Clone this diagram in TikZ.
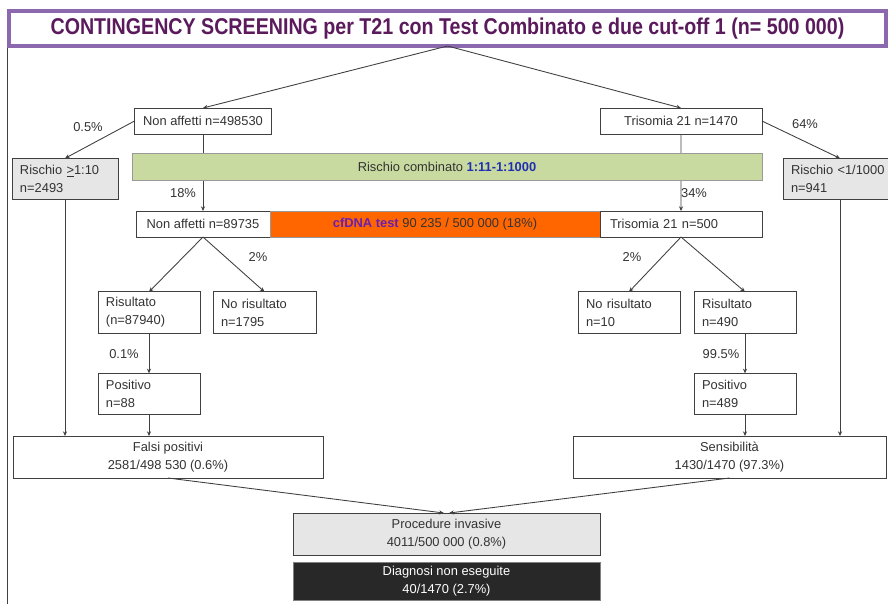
\documentclass[tikz,border=0pt]{standalone}
\usepackage{fontspec}
\setmainfont{Liberation Sans}
\usetikzlibrary{arrows.meta,positioning,backgrounds,calc}

\definecolor{linegray}{RGB}{64,64,64}
\definecolor{titleframe}{RGB}{140,105,175}
\definecolor{titletext}{RGB}{90,26,92}
\definecolor{greenbar}{RGB}{200,218,160}
\definecolor{cforange}{RGB}{255,102,0}
\definecolor{cfpurple}{RGB}{106,31,176}
\definecolor{cutblue}{RGB}{31,47,176}
\definecolor{boxgray}{RGB}{230,230,230}
\definecolor{darkbox}{RGB}{40,40,40}

\begin{document}
\begin{tikzpicture}[x=0.03cm,y=-0.03cm,
block/.style={draw=linegray,fill=white,line width=0.75pt,rectangle,outer sep=0pt,inner sep=0pt,
  minimum height=0.78cm,text=black!80,font=\fontsize{11}{15.5}\selectfont},
twoline/.style={block,minimum height=1.24cm,align=left,inner xsep=0.24cm},
bar/.style={block,draw=gray!80},
lbl/.style={text=black!80,font=\fontsize{11}{12}\selectfont},
arr/.style={draw=linegray,line width=0.75pt,-{Stealth[length=4pt,width=3.5pt]}}]

    \path[use as bounding box,clip] (0,0) rectangle (888,603);
    \draw[linegray,line width=0.8pt] (7,610) -- (7,9) -- (895,9);

    \node [block, draw=titleframe, line width=2.8pt, text=titletext, minimum width=26.31cm, minimum height=1.05cm] (T) at (447.5,28.5)
        {\scalebox{0.86}[1]{\fontsize{19.5}{22}\selectfont\bfseries CONTINGENCY SCREENING per T21 con Test Combinato e due cut-off 1 (n= 500 000)}};

    \node [block, minimum width=4.11cm] (NA1) at (203,121) {Non affetti n=498530};
    \node [block, minimum width=4.86cm] (TR1) at (681,121) {Trisomia 21 n=1470};
    \node [bar, fill=greenbar, minimum width=18.9cm, minimum height=0.81cm] (RC) at (447,166.5)
        {Rischio combinato \textcolor{cutblue}{\bfseries 1:11-1:1000}};
    \node [twoline, fill=boxgray, text width=2.7cm] (R1) at (65,179) {Rischio \underline{>}1:10\\n=2493};
    \node [twoline, fill=boxgray, text width=2.94cm] (R2) at (840,179) {Rischio <1/1000\\n=941};

    \node [block, minimum width=4.02cm] (NA2) at (203,224) {Non affetti n=89735};
    \node [bar, fill=cforange, minimum width=9.9cm, right=0pt of NA2] (CF)
        {\textcolor{cfpurple}{\bfseries cfDNA test} 90 235 / 500 000 (18\%)};
    \node [block, text width=4.26cm, inner xsep=0.3cm, align=left, right=0pt of CF] (TR2) {Trisomia 21 n=500};

    \node [twoline, text width=2.58cm] (RS1) at (149,312.5) {Risultato\\(n=87940)};
    \node [twoline, text width=2.61cm] (NR1) at (264.5,312.5) {No risultato\\n=1795};
    \node [twoline, text width=2.58cm] (NR2) at (629,312.5) {No risultato\\n=10};
    \node [twoline, text width=2.58cm] (RS2) at (745,312.5) {Risultato\\n=490};
    \node [twoline, text width=2.58cm] (P1) at (149,394) {Positivo\\n=88};
    \node [twoline, text width=2.58cm] (P2) at (745,394) {Positivo\\n=489};

    \node [block, align=center, minimum width=9.3cm, minimum height=1.26cm] (FP) at (168,457)
        {Falsi positivi\\2581/498 530 (0.6\%)};
    \node [block, align=center, minimum width=9.39cm, minimum height=1.26cm] (SE) at (729.5,457)
        {Sensibilità\\1430/1470 (97.3\%)};
    \node [block, align=center, fill=boxgray, minimum width=9.21cm, minimum height=1.26cm] (PI) at (446.5,534)
        {Procedure invasive\\4011/500 000 (0.8\%)};
    \node [block, align=center, fill=darkbox, draw=gray, text=white, minimum width=9.21cm, minimum height=1.14cm, below=0.21cm of PI] (DN)
        {Diagnosi non eseguite\\40/1470 (2.7\%)};

    % percentuali
    \node [lbl] (L1) at (88,127) {0.5\%};
    \node [lbl] (L2) at (805,124) {64\%};
    \node [lbl] (L3) at (183,193) {18\%};
    \node [lbl] (L4) at (694,193) {34\%};
    \node [lbl] (L5) at (258,257) {2\%};
    \node [lbl] (L6) at (632,257) {2\%};
    \node [lbl] (L7) at (124,354) {0.1\%};
    \node [lbl] (L8) at (721,354) {99.5\%};

    \begin{scope}[on background layer]
        \draw[arr] (NA1) -- (NA2);
        \draw[arr] (TR1) -- (TR2);
    \end{scope}

    \draw[arr] (T.south) -- (NA1.north);
    \draw[arr] (T.south) -- (TR1.north);
    \draw[arr] (NA1.west) -- (R1.north);
    \draw[arr] (TR1.east) -- (R2.north);
    \draw[arr] (NA2.south) -- (RS1.north);
    \draw[arr] (NA2.south) -- (NR1.north);
    \draw[arr] (TR2.south) -- (NR2.north);
    \draw[arr] (TR2.south) -- (RS2.north);
    \draw[arr] (RS1) -- (P1);
    \draw[arr] (RS2) -- (P2);
    \draw[arr] (R1) -- (R1 |- FP.north);
    \draw[arr] (P1) -- (P1 |- FP.north);
    \draw[arr] (P2) -- (P2 |- SE.north);
    \draw[arr] (R2) -- (R2 |- SE.north);
    \draw[arr] (FP.south) -- ([xshift=-0.08cm]PI.north);
    \draw[arr] (SE.south) -- ([xshift=0.08cm]PI.north);
\end{tikzpicture}
\end{document}
